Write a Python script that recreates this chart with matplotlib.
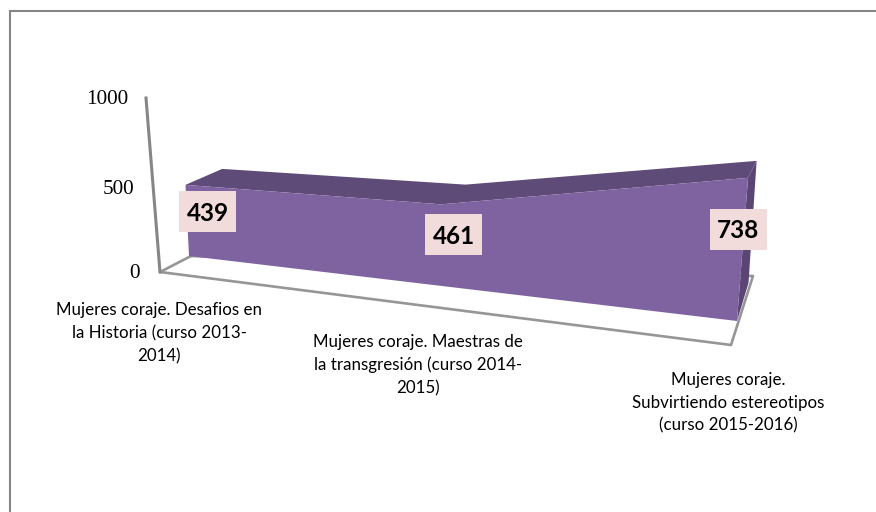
import numpy as np
import matplotlib.pyplot as plt
from matplotlib.patches import Polygon, Rectangle

categories = [
    "Mujeres coraje. Desafios en\nla Historia (curso 2013-\n2014)",
    "Mujeres coraje. Maestras de\nla transgresión (curso 2014-\n2015)",
    "Mujeres coraje.\nSubvirtiendo estereotipos\n(curso 2015-2016)",
]
values = [439, 461, 738]
axis_ticks = [0, 500, 1000]

GREY = "#868686"
FRONT = "#7F63A1"
TOP = "#5F4B78"
SIDE = "#5A4575"


# the chart is a tilted 3d area, so map (category, value, depth) to pixels by hand
def project(i, v, d=0.0):
    u = i / (len(values) - 1)
    t = u * 0.845 / (1 + (0.845 - 1) * u)
    x = 189 + 548 * t + (-0.008 + 0.023 * t) * v
    y = 256 + 65 * t - (0.162 + 0.032 * t) * v
    x += d * (38.5 - 27 * t - 0.004 * v)
    y -= d * (28.5 + 9.5 * t - 0.0285 * v)
    return x, y


fig = plt.figure(figsize=(8.76, 5.12), dpi=100)
ax = fig.add_axes([0, 0, 1, 1])
ax.set_xlim(0, 876)
ax.set_ylim(512, 0)
ax.axis("off")

# outer frame, only left and top show
ax.plot([9.5, 9.5, 876], [512, 10.5, 10.5], color=GREY, lw=1.5, solid_joinstyle="miter")

# floor and value axis
ax.plot([191, 160, 731, 753, 191], [256, 272, 345, 276, 256], color="#969696", lw=1.9, zorder=1)
ax.plot([146, 160], [98, 272], color=GREY, lw=2.2, zorder=1)

n = len(values)
front_top = [project(i, values[i]) for i in range(n)]
back_top = [project(i, values[i], 1) for i in range(n)]
front_base = [project(i, 0) for i in range(n)]

ax.add_patch(Polygon(front_top + back_top[::-1], color=TOP, lw=0, zorder=2))
ax.add_patch(Polygon([front_top[-1], back_top[-1], project(n - 1, 0, 1), front_base[-1]],
                     color=SIDE, lw=0, zorder=2))
ax.add_patch(Polygon(front_top + front_base[::-1], color=FRONT, lw=0, zorder=3))

# value labels in their pink boxes
label_pos = [(207.5, 211.5), (453.5, 234), (738, 229)]
for (lx, ly), v in zip(label_pos, values):
    ax.add_patch(Rectangle((lx - 28.5, ly - 20.5), 57, 41, color="#F2DCDB", lw=0, zorder=4))
    ax.text(lx, ly, str(v), ha="center", va="center_baseline", family="Lato", weight="bold",
            fontsize=17.5, color="black", zorder=5)

tick_pos = [(140, 273), (134, 189), (128, 99)]
for (tx, ty), tick in zip(tick_pos, axis_ticks):
    ax.text(tx, ty, str(tick), ha="right", va="center", family="Liberation Serif",
            fontsize=15.2, color="black")

cat_pos = [(159, 333), (418, 365), (728, 403)]
for (cx, cy), cat in zip(cat_pos, categories):
    ax.text(cx, cy, cat, ha="center", va="center", family="Lato", fontsize=12.2,
            linespacing=1.52, color="black")

plt.savefig("out.png", dpi=100)
